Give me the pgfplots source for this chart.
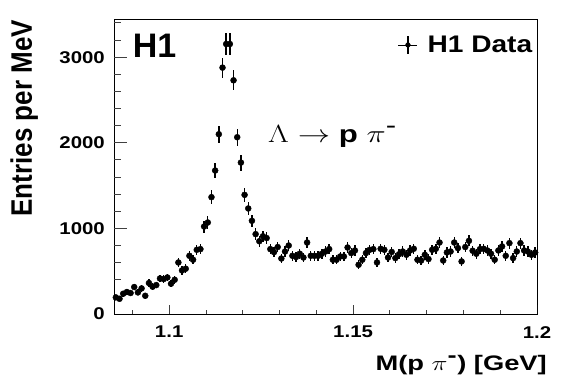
\documentclass[border=0pt]{standalone}
\usepackage{graphicx}
\usepackage{fontspec}
\setmainfont{Liberation Sans}
\usepackage{pgfplots}
\usepackage{pgfplotstable}
\pgfplotsset{compat=1.18}
\pgfplotstableread{
x y e
1.0855 194 31
1.0865 178 29
1.0875 237 34
1.0885 257 35
1.0895 245 34
1.0905 315 39
1.0915 252 35
1.0925 299 38
1.0935 213 32
1.0945 362 42
1.0955 319 39
1.0965 338 40
1.0975 415 45
1.0985 408 44
1.0995 427 45
1.1005 354 41
1.1015 400 44
1.1025 602 54
1.1035 509 50
1.1045 529 51
1.1055 680 57
1.1065 634 55
1.1075 750 60
1.1085 758 61
1.1095 1022 70
1.1105 1069 72
1.1115 1365 81
1.1125 1676 90
1.1135 2100 101
1.1145 2878 118
1.1155 3154 124
1.1165 3154 124
1.1175 2730 115
1.1185 2065 100
1.1195 1769 93
1.1205 1392 82
1.1215 1233 77
1.1225 1089 73
1.1235 933 67
1.1245 850 64
1.1255 908 66
1.1265 887 66
1.1275 758 61
1.1285 722 59
1.1295 782 62
1.1305 648 56
1.1315 730 59
1.1325 800 62
1.1335 680 57
1.1345 665 57
1.1355 704 58
1.1365 660 57
1.1375 835 64
1.1385 680 57
1.1395 680 57
1.1405 680 57
1.1415 704 58
1.1425 730 59
1.1435 758 61
1.1445 634 55
1.1455 634 55
1.1465 672 57
1.1475 672 57
1.1485 777 61
1.1495 712 59
1.1505 742 60
1.1515 575 53
1.1525 634 55
1.1535 712 59
1.1545 750 60
1.1555 758 61
1.1565 602 54
1.1575 762 61
1.1585 750 60
1.1595 660 57
1.1605 725 59
1.1615 653 56
1.1625 698 58
1.1635 730 59
1.1645 692 58
1.1655 742 60
1.1665 762 61
1.1675 634 55
1.1685 625 55
1.1695 692 58
1.1705 642 56
1.1715 750 60
1.1725 762 61
1.1735 835 64
1.1745 625 55
1.1755 719 59
1.1765 730 59
1.1775 835 64
1.1785 770 61
1.1795 614 55
1.1805 782 62
1.1815 855 64
1.1825 739 60
1.1835 704 58
1.1845 758 61
1.1855 762 61
1.1865 742 60
1.1875 704 58
1.1885 634 55
1.1895 742 60
1.1905 789 62
1.1915 680 57
1.1925 828 63
1.1935 653 56
1.1945 730 59
1.1955 828 63
1.1965 742 60
1.1975 730 59
1.1985 692 58
1.1995 719 59
}\datatable
\begin{document}
\begin{tikzpicture}
\path[use as bounding box] (-114pt,-70pt) rectangle (453pt,314pt);
\begin{axis}[
  scale only axis,
  width=423pt, height=295pt,
  xmin=1.085, xmax=1.2, ymin=0, ymax=3446,
  xtick={1.1,1.15,1.2},
  ytick={0,1000,2000,3000},
  xtick pos=bottom, ytick pos=left,
  tick align=inside,
  axis line style={line width=0.8pt},
  major tick length=0pt, minor tick length=0pt,
  xticklabel={\scalebox{1.2}[1]{\pgfmathprintnumber[assume math mode=true,precision=2]{\tick}}},
  yticklabel={\scalebox{1.2}[1]{\pgfmathprintnumber[assume math mode=true,1000 sep={}]{\tick}}},
  xticklabel style={font=\fontsize{17}{17}\selectfont\bfseries, inner sep=0pt, yshift=-12pt},
  yticklabel style={font=\fontsize{17}{17}\selectfont\bfseries, inner sep=0pt, xshift=-9pt},
  xlabel={\scalebox{1.3}[1]{M(p $\pi^{\mbox{-}}$) [GeV]}},
  xlabel style={font=\fontsize{21}{21}\selectfont\bfseries, at={(axis description cs:1.0236,-0.19)}, anchor=base east, inner sep=0pt},
  ylabel={\scalebox{1}[1.14]{Entries per MeV}},
  ylabel style={font=\fontsize{26}{26}\selectfont\bfseries, at={(axis description cs:-0.194,0.997)}, anchor=base east, inner sep=0pt},
  legend style={draw=none, fill=none, at={(axis description cs:0.671,0.912)}, anchor=west, inner sep=0pt,
     font=\fontsize{24}{24}\selectfont\bfseries},
  legend cell align=left,
]
% axis tick decorations (ROOT style, inside, left and bottom only)
\pgfplotsinvokeforeach{1.1,1.15,1.2}{\draw[line width=0.9pt, black!75] (axis cs:#1,0) -- ([yshift=9pt]axis cs:#1,0);}
\pgfplotsinvokeforeach{1.09,1.11,1.12,1.13,1.14,1.16,1.17,1.18,1.19}{\draw[line width=0.9pt, black!75] (axis cs:#1,0) -- ([yshift=4.5pt]axis cs:#1,0);}
\pgfplotsinvokeforeach{1000,2000,3000}{\draw[line width=0.9pt, black!75] (axis cs:1.085,#1) -- ([xshift=13pt]axis cs:1.085,#1);}
\pgfplotsinvokeforeach{200,400,600,800,1200,1400,1600,1800,2200,2400,2600,2800,3200,3400}{\draw[line width=0.9pt, black!75] (axis cs:1.085,#1) -- ([xshift=7pt]axis cs:1.085,#1);}
\addplot[only marks, mark=*, mark size=3pt, black,
  error bars/.cd, y dir=both, y explicit, error mark=none,
  error bar style={line width=1.4pt, black},
  /pgfplots/legend image code/.code={
    \draw[line width=0.8pt] (0pt,0pt)--(19pt,0pt);
    \draw[line width=1.3pt] (9.5pt,-9pt)--(9.5pt,9pt);
    \fill (9.5pt,0pt) circle (2.4pt);
    \path (27pt,0pt);},
  ] table[x=x, y=y, y error=e] {\datatable};
\addlegendentry{\scalebox{1.17}[1]{H1 Data}}
\node[anchor=base west, inner sep=0pt, font=\fontsize{34}{34}\selectfont\bfseries] at (axis description cs:0.044,0.871) {H1};
\node[anchor=base west, inner sep=0pt, font=\fontsize{24}{24}\selectfont] at (axis description cs:0.364,0.580)
  {\scalebox{1.3}[1]{$\Lambda\rightarrow$ \textbf{p} $\pi^{\mbox{-}}$}};
\end{axis}
\end{tikzpicture}
\end{document}
